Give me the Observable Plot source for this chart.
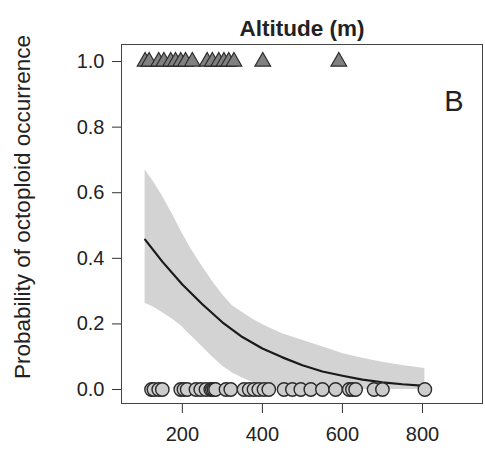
<!DOCTYPE html>
<html><head><meta charset="utf-8">
<script src="https://cdn.jsdelivr.net/npm/d3@7"></script>
<script src="https://cdn.jsdelivr.net/npm/@observablehq/plot@0.6"></script>
<style>body{margin:0;background:#fff}</style>
</head><body><div id="chart"></div>
<script>
// Observed octoploid presence (y = 1) altitudes, m
const presenceAlt = [107,117,141,154,171,183,196,208,225,262,275,291,304,316,329,401,591];
// Observed absence (y = 0) altitudes, m
const absenceAlt = [123,129,141,150,196,204,212,234,246,259,271,275,279,283,309,321,354,367,379,391,404,416,454,475,496,521,550,583,617,625,633,679,700,806];
// Fitted probability curve
const fitAlt   = [107,150,200,250,300,350,400,450,500,550,600,650,700,750,806];
const fitP     = [0.457,0.39,0.32,0.26,0.205,0.16,0.125,0.098,0.074,0.055,0.042,0.030,0.022,0.016,0.011];
// Confidence band
const bandAlt   = [107,130,150,175,196,221,250,275,300,325,350,375,400,450,500,550,600,650,700,750,806];
const bandUpper = [0.67,0.63,0.59,0.535,0.485,0.43,0.375,0.33,0.29,0.255,0.235,0.215,0.198,0.17,0.15,0.13,0.11,0.095,0.083,0.073,0.064];
const bandLower = [0.263,0.25,0.235,0.215,0.195,0.165,0.13,0.10,0.072,0.05,0.035,0.022,0.013,0.004,0.001,0,0,0,0,0,0];
const xTicks = [200,400,600,800];
const yTicks = [0,0.2,0.4,0.6,0.8,1.0];
const title = "Altitude (m)";
const yTitle = "Probability of octoploid occurrence";
const panel = "B";

const fit = fitAlt.map((a,i)=>({alt:a,p:fitP[i]}));
const band = bandAlt.map((a,i)=>({alt:a,lo:bandLower[i],hi:bandUpper[i]}));
const pres = presenceAlt.map(a=>({alt:a,v:1}));
const abs = absenceAlt.map(a=>({alt:a,v:0}));

const font = "'Liberation Sans', Arial, sans-serif";
const chart = Plot.plot({
  width:485, height:460,
  marginLeft:121, marginRight:3, marginTop:44, marginBottom:57,
  style:{fontFamily:font, fontSize:"18px", color:"#222", background:"#fff"},
  x:{domain:[48,950], label:null},
  y:{domain:[-0.0427,1.052], label:null},
  marks:[
    Plot.areaY(band,{x:"alt",y1:"lo",y2:"hi",fill:"#d3d3d3"}),
    Plot.line(fit,{x:"alt",y:"p",stroke:"#1a1a1a",strokeWidth:2.2}),
    Plot.dot(abs,{x:"alt",y:"v",r:6.7,fill:"#cccccc",stroke:"#2a2a2a",strokeWidth:1.4}),
    Plot.dot(pres,{x:"alt",y:"v",symbol:"triangle",r:5.8,fill:"#808080",stroke:"#2a2a2a",strokeWidth:1.2}),
    Plot.frame({stroke:"#444"}),
    Plot.axisX({ticks:xTicks, tickSize:10, tickPadding:13, tickFormat:d=>String(d), fontSize:20, label:null, stroke:"#333"}),
    Plot.axisY({ticks:yTicks, tickSize:9, tickPadding:8, tickFormat:d3.format(".1f"), fontSize:20, label:null, stroke:"#333"}),
    Plot.text([panel],{frameAnchor:"top-right",dx:-19,dy:46,lineAnchor:"top",textAnchor:"end",fontSize:29,fill:"#222"}),
    Plot.text([title],{frameAnchor:"top",dy:-24,fontWeight:"bold",fontSize:22.5,fill:"#222"}),
    Plot.text([yTitle],{frameAnchor:"left",rotate:-90,dx:-99,dy:-17,textAnchor:"middle",fontSize:22.5,fill:"#222"})
  ]
});
document.getElementById("chart").appendChild(chart);
</script>
</body></html>
